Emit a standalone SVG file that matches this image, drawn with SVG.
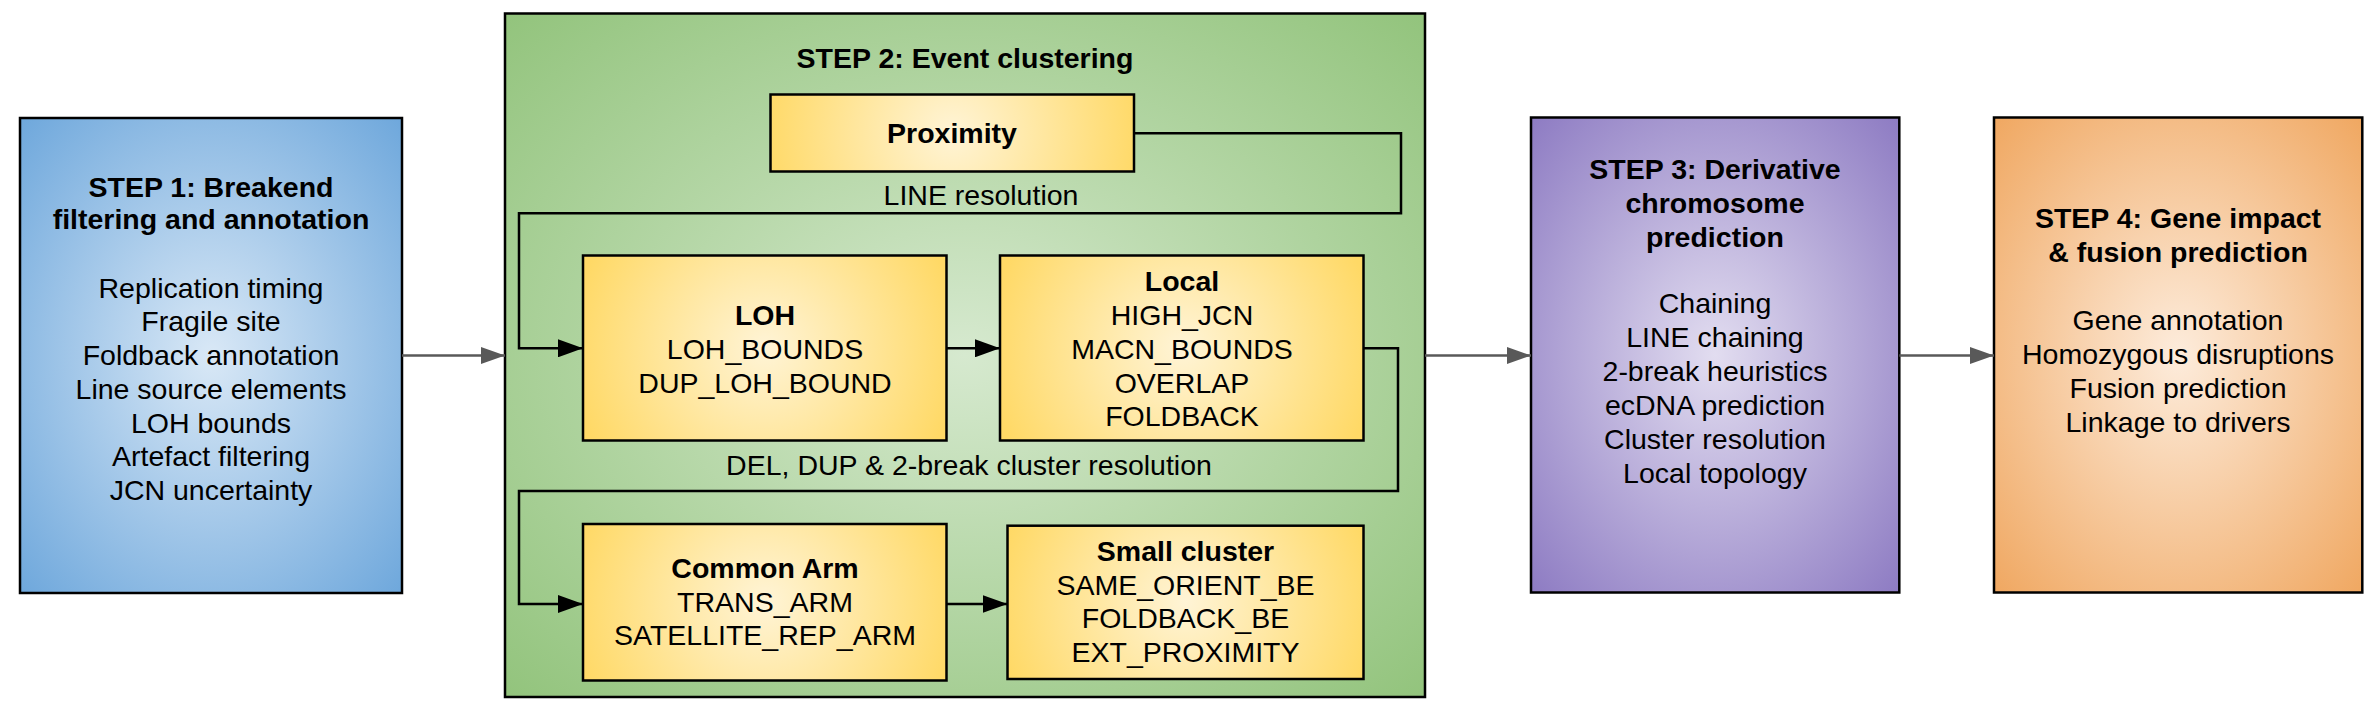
<svg xmlns="http://www.w3.org/2000/svg" width="2378" height="706" viewBox="0 0 2378 706">
<style>
text{font-family:"Liberation Sans",Arial,sans-serif;font-size:28.5px;fill:#000;text-anchor:middle}
.b{font-weight:bold}
.box{stroke:#000;stroke-width:2.5}
.gc{fill:none;stroke:#595959;stroke-width:2.5}
.bc{fill:none;stroke:#000;stroke-width:2.5}
</style>
<defs>
<radialGradient id="gBlue" cx="0.5" cy="0.5" r="0.7"><stop offset="0" stop-color="#d9e8f6"/><stop offset="1" stop-color="#6fa8dc"/></radialGradient>
<radialGradient id="gGreen" cx="0.5" cy="0.5" r="0.7"><stop offset="0" stop-color="#d6e9cf"/><stop offset="1" stop-color="#93c47d"/></radialGradient>
<radialGradient id="gPurple" cx="0.5" cy="0.5" r="0.7"><stop offset="0" stop-color="#e2ddf0"/><stop offset="1" stop-color="#8e7cc3"/></radialGradient>
<radialGradient id="gOrange" cx="0.5" cy="0.5" r="0.7"><stop offset="0" stop-color="#fdecdc"/><stop offset="1" stop-color="#f0a862"/></radialGradient>
<radialGradient id="yProx" gradientUnits="userSpaceOnUse" cx="952" cy="133" r="190"><stop offset="0" stop-color="#fff4d6"/><stop offset="1" stop-color="#ffd966"/></radialGradient>
<radialGradient id="yLoh" gradientUnits="userSpaceOnUse" cx="765" cy="348" r="195"><stop offset="0" stop-color="#fff4d6"/><stop offset="1" stop-color="#ffd966"/></radialGradient>
<radialGradient id="yLocal" gradientUnits="userSpaceOnUse" cx="1182" cy="348" r="195"><stop offset="0" stop-color="#fff4d6"/><stop offset="1" stop-color="#ffd966"/></radialGradient>
<radialGradient id="yArm" gradientUnits="userSpaceOnUse" cx="765" cy="602" r="195"><stop offset="0" stop-color="#fff4d6"/><stop offset="1" stop-color="#ffd966"/></radialGradient>
<radialGradient id="ySmall" gradientUnits="userSpaceOnUse" cx="1185.5" cy="602" r="190"><stop offset="0" stop-color="#fff4d6"/><stop offset="1" stop-color="#ffd966"/></radialGradient>
<marker id="ag" markerUnits="userSpaceOnUse" markerWidth="24" markerHeight="17" refX="24" refY="8.5" orient="auto"><path d="M0,0 L24,8.5 L0,17 Z" fill="#595959"/></marker>
<marker id="ab" markerUnits="userSpaceOnUse" markerWidth="25" markerHeight="18" refX="25" refY="9" orient="auto"><path d="M0,0 L25,9 L0,18 Z" fill="#000"/></marker>
</defs>

<g id="step1">
<rect class="box" x="20" y="118" width="382" height="475" fill="url(#gBlue)"/>
<text class="b" x="211" y="196.5">STEP 1: Breakend</text>
<text class="b" x="211" y="229">filtering and annotation</text>
<text x="211" y="297.7">Replication timing</text>
<text x="211" y="331.4">Fragile site</text>
<text x="211" y="365.1">Foldback annotation</text>
<text x="211" y="398.8">Line source elements</text>
<text x="211" y="432.5">LOH bounds</text>
<text x="211" y="466.2">Artefact filtering</text>
<text x="211" y="499.9">JCN uncertainty</text>
</g>

<g id="step2">
<rect class="box" x="505" y="13.5" width="920" height="683.5" fill="url(#gGreen)"/>
<text class="b" x="965" y="67.5">STEP 2: Event clustering</text>
<text x="981" y="205">LINE resolution</text>
<text x="969" y="475">DEL, DUP &amp; 2-break cluster resolution</text>
</g>

<g id="proximity">
<rect class="box" x="770.5" y="94.5" width="363.5" height="77" fill="url(#yProx)"/>
<text class="b" x="952" y="142.5">Proximity</text>
</g>

<g id="loh">
<rect class="box" x="583" y="255.5" width="363.5" height="185" fill="url(#yLoh)"/>
<text class="b" x="765" y="325">LOH</text>
<text x="765" y="359">LOH_BOUNDS</text>
<text x="765" y="392.7">DUP_LOH_BOUND</text>
</g>

<g id="local">
<rect class="box" x="1000" y="255.5" width="363.5" height="185" fill="url(#yLocal)"/>
<text class="b" x="1182" y="291">Local</text>
<text x="1182" y="325">HIGH_JCN</text>
<text x="1182" y="359">MACN_BOUNDS</text>
<text x="1182" y="392.7">OVERLAP</text>
<text x="1182" y="426.3">FOLDBACK</text>
</g>

<g id="common-arm">
<rect class="box" x="583" y="524" width="363.5" height="156.5" fill="url(#yArm)"/>
<text class="b" x="765" y="578.3">Common Arm</text>
<text x="765" y="611.7">TRANS_ARM</text>
<text x="765" y="645">SATELLITE_REP_ARM</text>
</g>

<g id="small-cluster">
<rect class="box" x="1007.5" y="525.7" width="356" height="153.3" fill="url(#ySmall)"/>
<text class="b" x="1185.5" y="561">Small cluster</text>
<text x="1185.5" y="595">SAME_ORIENT_BE</text>
<text x="1185.5" y="628.3">FOLDBACK_BE</text>
<text x="1185.5" y="661.7">EXT_PROXIMITY</text>
</g>

<g id="step3">
<rect class="box" x="1531" y="117.5" width="368.3" height="475" fill="url(#gPurple)"/>
<text class="b" x="1715" y="179">STEP 3: Derivative</text>
<text class="b" x="1715" y="212.5">chromosome</text>
<text class="b" x="1715" y="246.5">prediction</text>
<text x="1715" y="313.3">Chaining</text>
<text x="1715" y="347.3">LINE chaining</text>
<text x="1715" y="381.3">2-break heuristics</text>
<text x="1715" y="415.3">ecDNA prediction</text>
<text x="1715" y="449.3">Cluster resolution</text>
<text x="1715" y="483.3">Local topology</text>
</g>

<g id="step4">
<rect class="box" x="1994" y="117.5" width="368.3" height="475" fill="url(#gOrange)"/>
<text class="b" x="2178" y="228.3">STEP 4: Gene impact</text>
<text class="b" x="2178" y="261.7">&amp; fusion prediction</text>
<text x="2178" y="330">Gene annotation</text>
<text x="2178" y="364">Homozygous disruptions</text>
<text x="2178" y="398">Fusion prediction</text>
<text x="2178" y="432">Linkage to drivers</text>
</g>

<g id="connectors">
<path class="gc" d="M402,355.5 H505" marker-end="url(#ag)"/>
<path class="gc" d="M1425,355.5 H1531" marker-end="url(#ag)"/>
<path class="gc" d="M1899.3,355.5 H1994" marker-end="url(#ag)"/>
<path class="bc" d="M1134,133.3 H1401 V213.3 H519 V348.3 H583" marker-end="url(#ab)"/>
<path class="bc" d="M946.5,348.3 H1000" marker-end="url(#ab)"/>
<path class="bc" d="M1363.5,348.3 H1398 V491 H519 V604 H583" marker-end="url(#ab)"/>
<path class="bc" d="M946.5,604 H1007.5" marker-end="url(#ab)"/>
</g>
</svg>
